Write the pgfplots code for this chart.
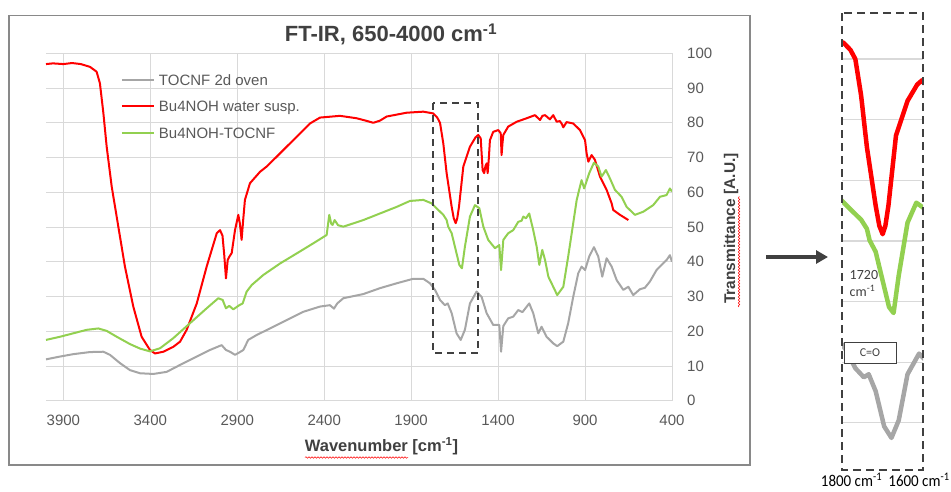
\documentclass[border=0pt]{standalone}
\usepackage{graphicx}
\usepackage{pgfplots}
\pgfplotsset{compat=1.18}
\usepackage{pgfplotstable}
\usepackage{fontspec}
\setmainfont{Liberation Sans}
\newfontfamily\calib{Carlito}
\usetikzlibrary{arrows.meta,decorations.pathmorphing}
\definecolor{cred}{HTML}{FF0000}
\definecolor{cgreen}{HTML}{92D050}
\definecolor{cgray}{HTML}{A6A6A6}
\definecolor{gridc}{HTML}{D9D9D9}
\definecolor{txt}{HTML}{595959}
\definecolor{dtxt}{HTML}{404040}
\definecolor{framec}{HTML}{898989}

\pgfplotstableread{
wn t
4000 96.9
3960 97.1
3900 96.9
3850 97.2
3800 96.9
3747 96.1
3709 94.7
3690 91.4
3670 82.8
3651 73.1
3622 61.6
3584 50.1
3546 38.6
3498 27.1
3450 18.4
3402 14.6
3373 13.6
3325 14.1
3268 15.5
3229 17.0
3191 20.4
3133 28.0
3076 38.6
3018 48.2
2999 49.1
2985 47.5
2975 42.0
2965 35.2
2955 40.5
2945 41.5
2932 42.5
2913 49.1
2894 53.5
2885 51.0
2875 46.3
2866 52.0
2856 57.8
2827 62.6
2769 65.9
2731 67.4
2654 71.2
2558 76.0
2482 79.8
2424 81.5
2309 82.0
2213 81.3
2160 80.6
2118 80.0
2080 80.6
2041 81.8
1926 82.9
1830 83.2
1773 82.7
1750 81.5
1734 80.0
1715 74.0
1696 65.5
1667 55.8
1655 52.5
1644 51.1
1635 52.5
1625 55.8
1600 67.4
1562 73.1
1530 75.8
1514 76.5
1500 75.5
1489 66.4
1480 65.5
1473 67.5
1466 68.3
1460 65.5
1453 70.0
1447 75.0
1428 77.4
1399 77.9
1385 77.0
1380 70.7
1375 74.0
1370 76.5
1342 78.9
1293 80.3
1236 81.3
1188 82.2
1159 80.8
1145 82.0
1130 82.2
1102 81.0
1083 82.2
1063 80.3
1045 80.5
1035 79.8
1025 78.7
1006 80.2
968 79.8
929 77.9
900 75.0
891 71.2
881 68.8
862 70.7
843 69.3
814 64.5
776 60.7
747 56.8
738 54.9
699 53.5
651 52.0
}\redtab

\pgfplotstableread{
wn t
4000 17.5
3920 18.4
3843 19.4
3766 20.4
3699 20.8
3651 20.1
3593 18.4
3517 16.3
3459 15.0
3402 14.2
3344 15.1
3268 18.0
3172 22.3
3076 26.6
3009 29.5
2984 29.0
2965 26.6
2946 27.3
2923 26.3
2888 27.5
2869 28.0
2846 31.4
2817 33.3
2750 36.2
2654 39.5
2558 42.4
2463 45.3
2386 47.7
2371 53.5
2360 51.0
2352 50.6
2340 52.0
2320 50.5
2290 50.1
2175 52.0
2079 53.9
1983 55.8
1907 57.5
1830 57.8
1782 56.8
1744 54.9
1715 53.5
1696 52.0
1687 50.1
1667 48.2
1639 42.4
1623 39.1
1608 38.1
1591 44.3
1562 53.0
1533 56.3
1508 55.4
1485 50.1
1457 46.3
1418 43.9
1393 44.8
1383 37.6
1370 46.3
1342 48.2
1313 49.1
1284 51.5
1265 51.8
1255 53.0
1240 52.5
1221 53.9
1198 49.1
1178 44.3
1163 39.1
1146 43.4
1130 40.5
1111 35.7
1083 32.8
1060 30.4
1025 32.8
997 41.5
971 50.1
948 57.8
920 63.5
905 61.1
876 65.5
849 68.5
824 67.4
805 64.5
780 66.4
757 64.0
728 60.7
690 58.7
661 55.8
613 53.5
565 54.4
508 56.3
469 58.7
431 59.2
412 61.1
400 60.2
}\greentab

\pgfplotstableread{
wn t
4000 11.9
3920 12.7
3843 13.4
3747 14.0
3670 14.1
3632 13.2
3574 10.8
3517 8.8
3459 7.9
3383 7.7
3306 8.3
3229 10.3
3133 12.7
3057 14.6
2990 16.0
2965 14.6
2942 14.1
2913 13.2
2888 13.9
2865 14.6
2837 17.5
2789 18.9
2712 20.8
2616 23.2
2520 25.6
2424 27.1
2367 27.5
2344 26.5
2325 28.0
2290 29.5
2175 30.7
2079 32.4
1983 33.8
1888 35.1
1830 35.1
1792 33.8
1763 31.9
1734 29.0
1706 27.5
1690 28.0
1667 25.2
1639 19.4
1615 17.5
1591 20.4
1562 28.0
1524 31.4
1495 29.9
1466 25.2
1428 21.8
1393 21.8
1383 14.1
1370 21.5
1342 23.7
1313 24.2
1284 26.1
1260 25.5
1221 28.0
1198 25.2
1169 19.4
1150 21.3
1121 18.4
1083 16.5
1060 15.7
1025 17.0
997 22.3
968 29.9
939 36.7
920 38.6
900 37.6
876 41.5
849 44.2
824 41.5
801 35.7
776 41.0
747 38.6
718 34.7
680 31.9
651 32.8
623 30.4
584 32.1
556 32.5
527 34.3
489 37.6
460 39.1
431 40.5
412 41.9
400 40.0
}\graytab

\begin{document}
\begin{tikzpicture}
\path[use as bounding box] (0pt,0pt) rectangle (951pt,-491pt);
\draw[framec, line width=1.3pt] (9pt,-15.5pt) rectangle (750pt,-465pt);

\begin{axis}[
  at={(46pt,-400.7pt)}, anchor=south west,
  scale only axis, width=626pt, height=347.4pt,
  x dir=reverse, xmin=400, xmax=4000, ymin=0, ymax=100,
  xtick={400,900,1400,1900,2400,2900,3400,3900},
  ytick={0,10,...,100},
  grid=major, major grid style={draw=gridc, line width=0.9pt},
  axis line style={draw=none},
  major tick length=0pt,
  yticklabel pos=right,
  /pgf/number format/assume math mode=true,
  /pgf/number format/1000 sep={},
  tick label style={font=\fontsize{15}{15}\selectfont, text=txt},
  xticklabel style={anchor=center, yshift=-19.5pt},
  yticklabel style={anchor=west, inner sep=0pt, xshift=15pt},
  legend cell align=left,
  legend image code/.code={\draw[#1] (0pt,0pt) -- (32pt,0pt);},
  legend style={at={(axis description cs:0.1198,0.939)}, anchor=north west,
    draw=none, fill=none, inner sep=0pt, outer sep=0pt,
    font=\fontsize{15}{15}\selectfont, text=txt,
    row sep=15.5pt, column sep=4pt,
    nodes={inner sep=0pt, text height=11pt, text depth=0pt}},
]
\addplot[cgray, line width=2pt, line join=round] table[x=wn,y=t] {\graytab};
\addlegendentry{TOCNF 2d oven}
\addplot[cred, line width=2pt, line join=round] table[x=wn,y=t] {\redtab};
\addlegendentry{Bu4NOH water susp.}
\addplot[cgreen, line width=2pt, line join=round] table[x=wn,y=t] {\greentab};
\addlegendentry{Bu4NOH-TOCNF}
\end{axis}

\draw[dtxt, line width=2.2pt, dash pattern=on 7pt off 5pt] (432.7pt,-103.3pt) rectangle (478.3pt,-352.7pt);

\node[anchor=base, font=\fontsize{22}{22}\selectfont\bfseries, text=dtxt] at (391pt,-41.7pt) {FT-IR, 650-4000 cm\textsuperscript{-1}};
\node[anchor=base, font=\fontsize{16.5}{16.5}\selectfont\bfseries, text=dtxt] at (381.5pt,-451.7pt) {Wavenumber [cm\textsuperscript{-1}]};
\node[anchor=base, rotate=90, font=\fontsize{15.5}{15.5}\selectfont\bfseries, text=dtxt] at (735pt,-228.5pt) {Transmittance [A.U.]};
\draw[red, line width=0.5pt, decorate, decoration={snake, amplitude=0.8pt, segment length=3pt}] (305pt,-457.5pt) -- (408pt,-457.5pt);
\draw[red, line width=0.5pt, decorate, decoration={snake, amplitude=0.8pt, segment length=3pt}] (739pt,-307pt) -- (739pt,-196pt);

% inset
\begin{axis}[
  at={(842pt,-470pt)}, anchor=south west,
  scale only axis, width=81pt, height=457pt,
  x dir=reverse, xmin=1511, xmax=1778, ymin=12.2, ymax=87.6,
  xtick=\empty, ytick={20,30,...,80}, yticklabels={},
  ymajorgrids, major grid style={draw=gridc, line width=1.2pt},
  axis line style={draw=none}, major tick length=0pt,
]
\addplot[cgray, line width=4.5pt, line join=round] table[x=wn,y=t] {\graytab};
\addplot[cred, line width=4.5pt, line join=round] table[x=wn,y=t] {\redtab};
\addplot[cgreen, line width=4.5pt, line join=round] table[x=wn,y=t] {\greentab};
\end{axis}

\draw[dtxt, line width=2.2pt, dash pattern=on 8pt off 5pt] (842pt,-13pt) rectangle (923pt,-470pt);

\node[draw=dtxt, fill=white, line width=0.8pt, minimum width=52pt, minimum height=21pt, inner sep=0pt, font=\calib\fontsize{12}{12}\selectfont, text=dtxt] at (870pt,-352.5pt) {C=O};
\node[anchor=base west, inner sep=0pt, font=\calib\fontsize{14}{14}\selectfont, text=dtxt] at (849.5pt,-279.5pt) {1720};
\node[anchor=base west, inner sep=0pt, font=\calib\fontsize{14}{14}\selectfont, text=dtxt] at (849.5pt,-296.5pt) {cm\textsuperscript{-1}};

\draw[dtxt, line width=3.5pt, -{Triangle[length=12pt,width=13pt]}] (766pt,-257pt) -- (828pt,-257pt);

\node[anchor=base, inner sep=0pt, font=\calib\fontsize{15}{15}\selectfont, text=black] at (851.5pt,-486pt) {\scalebox{1}[1.1]{1800 cm\textsuperscript{-1}}};
\node[anchor=base, inner sep=0pt, font=\calib\fontsize{15}{15}\selectfont, text=black] at (919pt,-486pt) {\scalebox{1}[1.1]{1600 cm\textsuperscript{-1}}};
\end{tikzpicture}
\end{document}
